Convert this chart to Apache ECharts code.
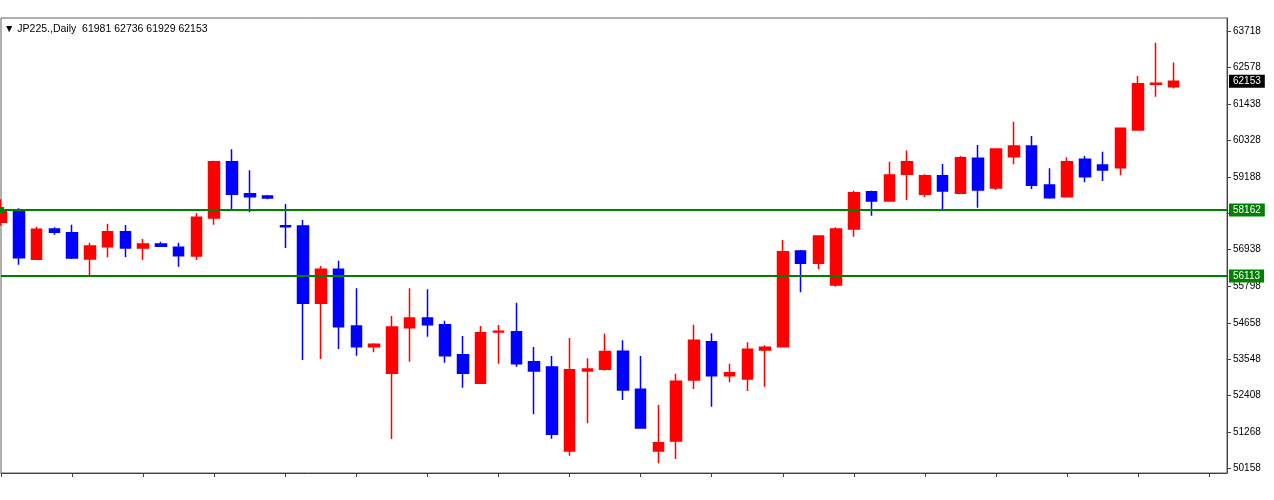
<!DOCTYPE html>
<html lang="en">
<head>
    <meta charset="UTF-8">
    <title>JP225 Daily</title>
    <script type="text/javascript" src="https://cdn.jsdelivr.net/npm/echarts@6/dist/echarts.min.js"></script>
    <style>
        html, body { margin: 0; padding: 0; background: #fff; }
        #chart { width: 1274px; height: 500px; }
    </style>
</head>
<body>
<div id="chart"></div>

<script type="text/javascript">
    // daily bars, oldest first
    var opens = [57781,58131,56634,57573,57458,56643,57024,57489,56984,57108,
                 57006,56736,57914,59659,58667,58596,57672,57666,55270,56324,
                 54566,53924,53100,54513,54814,54606,53676,52790,54380,54389,
                 53459,53295,50691,53171,53224,53782,52604,50691,51001,52892,
                 54079,53025,52923,53822,53924,56891,56510,55837,57573,58729,
                 58441,59269,58649,59225,58680,59765,58844,59814,60146,58937,
                 58574,59734,59557,59473,60642,62060,61981];
    var highs = [58494,58215,57644,57626,57706,57148,57737,57697,57263,57179,
                 57148,58069,59690,60044,59393,58627,58348,57852,56426,56590,
                 55735,54030,54876,55735,55704,54730,54256,54566,54597,55288,
                 53915,53636,54194,53565,54334,54123,53636,52117,53087,54606,
                 54340,53397,54061,53968,57232,56922,57370,57626,58760,58760,
                 59659,60007,59269,59588,59836,60177,60075,60899,60456,59455,
                 59796,59836,59969,60710,62316,63348,62736];
    var lows = [57675,56466,56612,57396,56643,56094,56696,56705,56612,57024,
                56404,56612,57706,58162,58091,58494,56984,53512,53543,53853,
                53645,53751,51063,53459,54234,53428,52653,52770,53397,53304,
                51829,51072,50545,51550,53187,52272,51382,50310,50443,52613,
                52064,52821,52551,52684,53900,55611,56333,55784,57334,57985,
                58420,58472,58556,58162,58658,58233,58782,59579,58813,58512,
                58556,59021,59061,59238,60620,61674,61929];
    var closes = [58162,56683,57564,57471,56674,57046,57489,56984,57108,57037,
                  56745,57936,59659,58649,58574,58534,57641,55270,56324,54544,
                  53924,53999,54535,54814,54606,53645,53100,54358,54405,53397,
                  53171,51209,53211,53233,53776,52582,51404,50948,52852,54123,
                  53025,53118,53844,53906,56869,56510,57356,57573,58698,58441,
                  59247,59659,59225,58751,59783,58782,60053,60146,58928,58543,
                  59659,59194,59402,60695,62077,62090,62153];

    // horizontal levels drawn on the chart
    var levels = [58162, 56113];
    // price scale labels on the right
    var priceTicks = [50158, 51268, 52408, 53548, 54658, 55798, 56938, 58048, 59188, 60328, 61438, 62578, 63718];
    var symbolName = 'JP225.,Daily';
    var emptySlots = 3;   // free bars on the right side

    var bars = [];
    var candles = [];
    for (var i = 0; i < opens.length + emptySlots; i++) {
        bars.push(String(i + 1));
        if (i < opens.length) candles.push([opens[i], closes[i], lows[i], highs[i]]);
    }
    var last = opens.length - 1;
    var bid = closes[last];

    var myChart = echarts.init(document.getElementById('chart'));
    myChart.setOption({
        animation: false,
        backgroundColor: '#fff',
        textStyle: { fontFamily: 'Liberation Sans' },
        title: {
            text: '\u25BC ' + symbolName + '  ' + opens[last] + ' ' + highs[last] + ' ' + lows[last] + ' ' + closes[last],
            left: 4,
            top: 24,
            padding: 0,
            textStyle: { fontSize: 10.5, fontWeight: 'normal', color: '#000', fontFamily: 'Liberation Sans' }
        },
        grid: {
            left: 1, right: 47, top: 18, bottom: 27,
            show: true, borderColor: '#606060', borderWidth: 1
        },
        xAxis: {
            type: 'category',
            data: bars,
            boundaryGap: false,
            axisLine: { lineStyle: { color: '#404040', width: 1 } },
            axisTick: { interval: 3, length: 4, lineStyle: { color: '#404040' } },
            axisLabel: { show: false },
            splitLine: { show: false }
        },
        yAxis: {
            type: 'value',
            position: 'right',
            min: 50009,
            max: 64114,
            scale: true,
            axisLine: { show: true, lineStyle: { color: '#404040', width: 1 } },
            axisTick: { show: true, length: 4, customValues: priceTicks, lineStyle: { color: '#404040' } },
            axisLabel: {
                customValues: priceTicks,
                margin: 6,
                fontSize: 10,
                color: '#000',
                fontFamily: 'Liberation Sans',
                formatter: function (v) { return String(v); }
            },
            splitLine: { show: false }
        },
        series: [{
            type: 'candlestick',
            data: candles,
            barWidth: 11,
            clip: true,
            itemStyle: {
                color: '#ff0000',
                color0: '#0000ff',
                borderColor: '#ff0000',
                borderColor0: '#0000ff',
                borderWidth: 1.5
            },
            markLine: {
                silent: true,
                animation: false,
                symbol: ['none', 'none'],
                label: {
                    position: 'end',
                    distance: 2,
                    color: '#fff',
                    fontSize: 10,
                    fontFamily: 'Liberation Sans',
                    padding: [2, 4, 1, 4],
                    formatter: function (p) { return String(p.value); }
                },
                data: [
                    {
                        yAxis: levels[0],
                        symbol: ['emptyRect', 'emptyRect'],
                        symbolSize: 6,
                        lineStyle: { color: '#008000', width: 2, type: 'solid' },
                        label: { backgroundColor: '#008000' }
                    },
                    {
                        yAxis: levels[1],
                        lineStyle: { color: '#008000', width: 2, type: 'solid' },
                        label: { backgroundColor: '#008000' }
                    },
                    {
                        yAxis: bid,
                        lineStyle: { color: 'rgba(0,0,0,0)', width: 1 },
                        label: { backgroundColor: '#000' }
                    }
                ]
            }
        }]
    });
</script>

</body>
</html>
